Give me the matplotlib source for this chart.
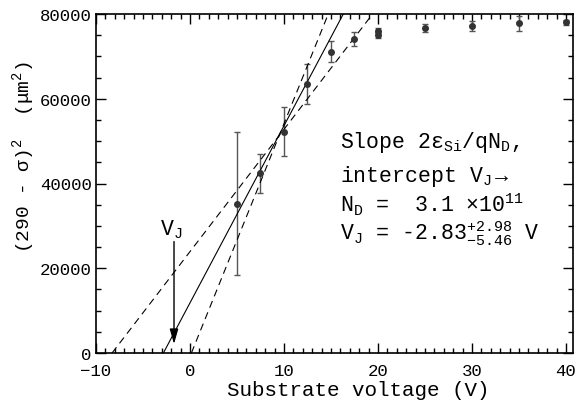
import numpy as np
from matplotlib import pyplot as plt
from matplotlib.ticker import MultipleLocator

# measured points: substrate voltage vs (290 - sigma)^2
volt = [5, 7.5, 10, 12.5, 15, 17.5, 20, 20, 25, 30, 35, 40]
width_sq = [35200, 42400, 52200, 63500, 71100, 74100, 76000, 75100, 76700, 77200, 77800, 78000]
width_err = [16900, 4600, 5800, 4700, 2500, 1700, 600, 700, 900, 1100, 1800, 500]

# linear fits (x-intercept, slope) : best fit, steep and shallow bounds
fit_names = ["best", "upper", "lower"]
fit_xint = [-2.83, 0.15, -8.29]
fit_slope = [4180, 5494, 2886]
fit_styles = ["-", "--", "--"]

vj_arrow_x = -1.7
vj_arrow_y = [26300, 2100]

plt.rcParams['font.family'] = ['Liberation Mono', 'DejaVu Sans']
plt.rcParams['mathtext.fontset'] = 'custom'
plt.rcParams['mathtext.rm'] = 'Liberation Mono'
plt.rcParams['mathtext.it'] = 'Liberation Mono'
plt.rcParams['mathtext.bf'] = 'Liberation Mono:bold'

fig = plt.figure(figsize=(5.82, 4.06), dpi=100)
ax = fig.add_axes([96/582, 1-354/406, 477/582, 339/406])

ax.errorbar(volt, width_sq, yerr=width_err, fmt='o', color='#333333', ms=4,
            ecolor='#555555', elinewidth=1, capsize=2.5, capthick=1)

for x0, m, ls in zip(fit_xint, fit_slope, fit_styles):
    xs = np.array([x0, 45.0])
    ys = m * (xs - x0)
    if ls == "--":
        ax.plot(xs, ys, color='k', lw=0.8, dashes=(6.5, 4.5))
    else:
        ax.plot(xs, ys, color='k', lw=0.8)

ax.annotate('', xy=(vj_arrow_x, vj_arrow_y[1]), xytext=(vj_arrow_x, vj_arrow_y[0]),
            arrowprops=dict(arrowstyle='-|>,head_length=0.6,head_width=0.17', color='k',
                            lw=1, mutation_scale=15, shrinkA=0, shrinkB=0))
ax.text(-3.2, 28100, r"V$_\mathrm{J}$", fontsize=15.5, va='baseline')

ax.text(16, 48600, r"Slope 2$\varepsilon_\mathrm{Si}$/qN$_\mathrm{D}$,", fontsize=15.5, va='baseline')
ax.text(16, 40600, r"intercept V$_\mathrm{J}$$\rightarrow$", fontsize=15.5, va='baseline')
ax.text(16, 33350, r"N$_\mathrm{D}$ =  3.1 $\times$10$^{11}$", fontsize=15.5, va='baseline')
ax.text(16, 26900, r"V$_\mathrm{J}$ = -2.83$^{+2.98}_{-5.46}$ V", fontsize=15.5, va='baseline')

ax.set_xlim(-10, 40.75)
ax.set_ylim(0, 80000)
ax.xaxis.set_major_locator(MultipleLocator(10))
ax.xaxis.set_minor_locator(MultipleLocator(1))
ax.yaxis.set_major_locator(MultipleLocator(20000))
ax.yaxis.set_minor_locator(MultipleLocator(5000))
ax.tick_params(which='both', direction='in', top=True, right=True, width=1,
               labelsize=12.5)
ax.tick_params(which='major', length=7)
ax.tick_params(axis='x', which='major', pad=7)
ax.tick_params(axis='y', which='major', pad=3)
ax.tick_params(which='minor', length=3.5)
for s in ax.spines.values():
    s.set_linewidth(1.2)

fig.text((358.5)/582, 1-391/406, "Substrate voltage (V)", fontsize=15,
         ha='center', va='center')
fig.text(24/582, 1-157.5/406, r"(290 - σ)$^2$  (μm$^2$)", fontsize=14,
         rotation=90, ha='center', va='center')

plt.savefig("out.png", dpi=100)
